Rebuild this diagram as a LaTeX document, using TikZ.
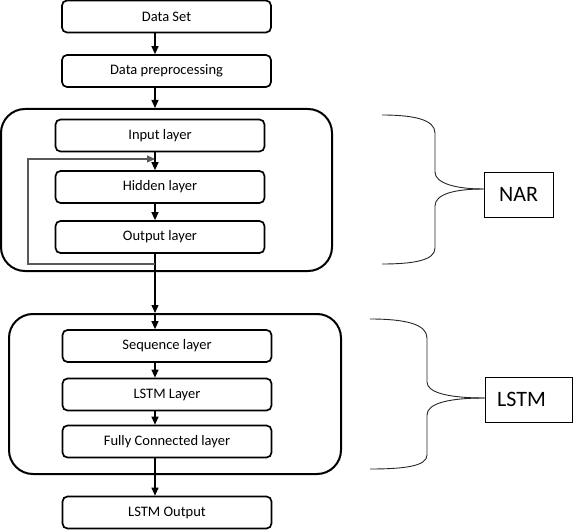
\documentclass[tikz,border=0pt]{standalone}
\usepackage{fontspec}
\setmainfont{Carlito}
\usetikzlibrary{arrows.meta,calc}
\begin{document}
\begin{tikzpicture}[x=1pt,y=-1pt,
  box/.style={draw, line width=1.7pt, rounded corners=5pt, minimum width=209pt, minimum height=32pt, inner sep=0pt, font=\fontsize{14.5}{16}\selectfont},
  big/.style={draw, line width=2pt, rounded corners=24pt, inner sep=0pt},
  lab/.style={draw, line width=0.8pt, inner sep=0pt, font=\fontsize{22}{24}\selectfont},
  arr/.style={-{Triangle[width=7pt,length=8pt]}, line width=1.2pt},
  loopline/.style={-{Triangle[width=7pt,length=8pt]}, line width=1.1pt, black!65, line join=miter},
  bracel/.style={line width=0.9pt, black!85}]
\useasboundingbox (0,0) rectangle (576,532);
\coordinate (xa) at (155,0);
% top
\node[box] (ds) at (166.5,16.5) {Data Set};
\node[box] (pre) at (166.5,71) {Data preprocessing};
% NAR block
\node[big, minimum width=331pt, minimum height=162pt] (nar) at (166.5,190) {};
\node[box] (in) at (160,135.5) {Input layer};
\node[box] (hid) at (160,187) {Hidden layer};
\node[box] (out) at (160,237) {Output layer};
% LSTM block
\node[big, minimum width=332pt, minimum height=160pt] (lb) at (175,394) {};
\node[box] (seq) at (167,346) {Sequence layer};
\node[box] (ll) at (167,394.5) {LSTM Layer};
\node[box] (fc) at (167,441.5) {Fully Connected layer};
\node[box] (lo) at (167,512.5) {LSTM Output};
% labels
\node[lab, minimum width=69pt, minimum height=45pt] (narl) at (518.5,194.5) {NAR};
\node[lab, minimum width=87pt, minimum height=45pt] (lstml) at (528.5,399.5) {\hspace*{-14pt}LSTM};
% arrows
\draw[arr] (xa |- ds.south) -- (xa |- pre.north);
\draw[arr] (xa |- pre.south) -- (xa |- nar.north);
\draw[arr] (xa |- in.south) -- (xa |- hid.north);
\draw[arr] (xa |- hid.south) -- (xa |- out.north);
\draw[arr] (xa |- out.south) -- (xa |- lb.north);
\draw[arr] (xa |- lb.north) -- (xa |- seq.north);
\draw[arr] (xa |- seq.south) -- (xa |- ll.north);
\draw[arr] (xa |- ll.south) -- (xa |- fc.north);
\draw[arr] (xa |- fc.south) -- (xa |- lo.north);
% feedback loop
\coordinate (lp1) at (28,264);
\coordinate (lp2) at (28,159);
\draw[loopline] (xa |- lp1) -- (lp1) -- (lp2) -- (xa |- lp2);
% NAR brace
\coordinate (nt) at (382,115);
\coordinate (nb) at (382,264);
\coordinate (ntip) at (narl.west |- 0,189);
\draw[bracel] (nt) .. controls (415,115) and (435,120) .. (435,133) -- (435,172)
  .. controls (435,183) and (455,189) .. (ntip);
\draw[bracel] (ntip) .. controls (455,189) and (435,194) .. (435,206) -- (435,248)
  .. controls (435,260) and (415,264) .. (nb);
% LSTM brace
\coordinate (lt) at (370,319);
\coordinate (lbt) at (370,469);
\coordinate (ltip) at (lstml.west |- 0,398);
\draw[bracel] (lt) .. controls (405,319) and (427,324) .. (427,338) -- (427,382)
  .. controls (427,393) and (450,398) .. (ltip);
\draw[bracel] (ltip) .. controls (450,398) and (427,403) .. (427,415) -- (427,455)
  .. controls (427,466) and (405,469) .. (lbt);
\end{tikzpicture}
\end{document}
